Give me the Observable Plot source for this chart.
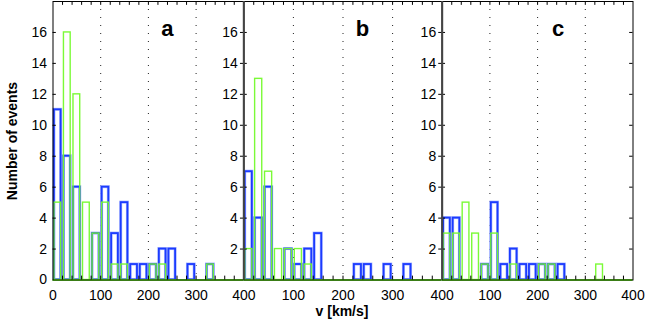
<!DOCTYPE html>
<html>
<head>
<meta charset="utf-8">
<script src="https://cdn.jsdelivr.net/npm/d3@7"></script>
<script src="https://cdn.jsdelivr.net/npm/@observablehq/plot@0.6"></script>
<style>
  html, body { margin: 0; padding: 0; background: #fff; }
  #wrap { position: relative; width: 658px; height: 331px; overflow: hidden; font-family: "Liberation Sans", Arial, Helvetica, sans-serif; }
  #wrap svg { position: absolute; left: 0; top: 0; background: transparent !important; }
  .lab { position: absolute; font-weight: bold; font-size: 14px; color: #000; white-space: nowrap; }
</style>
</head>
<body>
<div id="wrap">
  <div class="lab" id="ylab" style="left:12px;top:141px;transform:translate(-50%,-50%) rotate(-90deg);">Number of events</div>
  <div class="lab" id="xlab" style="left:342px;top:311px;transform:translate(-50%,-50%);">v [km/s]</div>
</div>
<script>
// bin centres (km/s), bin width 20
const binCenters = [10,30,50,70,90,110,130,150,170,190,210,230,250,270,290,310,330,350,370,390];
const binWidth = 20;

const panelNames = ["a", "b", "c"];
const blueA  = [11,8,6,0,3,6,3,5,1,1,1,2,2,0,1,0,1,0,0,0];
const greenA = [5,16,12,5,3,5,1,1,0,0,1,1,0,0,0,0,1,0,0,0];
const blueB  = [7,4,6,0,2,1,2,3,0,0,0,1,1,0,1,0,1,0,0,0];
const greenB = [2,13,7,2,2,2,1,0,0,0,0,0,0,0,0,0,0,0,0,0];
const blueC  = [4,4,0,0,1,5,1,2,1,1,1,1,1,0,0,0,0,0,0,0];
const greenC = [3,3,5,3,1,3,0,1,0,0,1,1,0,0,0,0,1,0,0,0];

const yTickLabelsFirst = [0,2,4,6,8,10,12,14,16];
const yTickLabelsOther = [2,4,6,8,10,12,14,16];
const yTickMarks = [2,4,6,8,10,12,14,16];
const xTickLabelsFirst = [0,100,200,300,400];
const xTickLabelsOther = [100,200,300,400];
const xTickMarks = [20,40,60,80,100,120,140,160,180,200,220,240,260,280,300,320,340,360,380];
const gridX = [100,200,300];

const BLUE = "#1b3bff", BLUE_HALO = "#a8b6ff", GREEN = "#74fa2c";
const W = 658, H = 331, TOP = 1, BASE = 279.5;

const panels = [
  {name: "a", blue: blueA, green: greenA, left: 52.5, right: 243.3, first: true,  lx: 240},
  {name: "b", blue: blueB, green: greenB, left: 243.3, right: 441.7, first: false, lx: 239},
  {name: "c", blue: blueC, green: greenC, left: 441.7, right: 632.5, first: false, lx: 243},
];

function rows(vals) {
  return binCenters.map((c, i) => ({lo: c - binWidth/2, hi: c + binWidth/2, v: vals[i]})).filter(d => d.v > 0);
}

const wrap = document.getElementById("wrap");
panels.forEach((p, k) => {
  const blue = rows(p.blue), green = rows(p.green);
  const marks = [
    Plot.ruleX(gridX, {stroke: "#222", strokeDasharray: "1,7", strokeWidth: 1}),
    Plot.rectY(blue, {x1: "lo", x2: "hi", y: "v", insetLeft: 1.4, insetRight: 1.4, fill: "none", stroke: BLUE_HALO, strokeWidth: 3}),
    Plot.rectY(blue, {x1: "lo", x2: "hi", y: "v", insetLeft: 1.4, insetRight: 1.4, fill: "none", stroke: BLUE, strokeWidth: 1.8}),
    Plot.rectY(green, {x1: "lo", x2: "hi", y: "v", insetLeft: 1.4, insetRight: 1.4, fill: "none", stroke: GREEN, strokeWidth: 1.4, strokeOpacity: 0.95}),
    Plot.ruleY([0], {stroke: GREEN, strokeWidth: 2}),
    Plot.frame({stroke: "#000", strokeWidth: 1}),
    // inward ticks
    Plot.ruleX(xTickMarks, {y1: 0, y2: 0.25, stroke: "#000"}),
    Plot.ruleX(xTickMarks, {y1: 17.75, y2: 18, stroke: "#000"}),
    Plot.ruleY(yTickMarks, {x1: 0, x2: 7, stroke: "#000"}),
    Plot.ruleY(yTickMarks, {x1: 393, x2: 400, stroke: "#000"}),
    Plot.axisY(p.first ? yTickLabelsFirst : yTickLabelsOther, {anchor: "left", tickSize: 0, tickPadding: 6, fontSize: 14, label: null}),
    Plot.axisX(p.first ? xTickLabelsFirst : xTickLabelsOther, {anchor: "bottom", tickSize: 0, tickPadding: 10, fontSize: 14, label: null}),
    Plot.text([p.name], {x: p.lx, y: 16.2, text: d => d, fontSize: 22, fontWeight: "bold", textAnchor: "middle", lineAnchor: "middle"}),
  ];
  if (!p.first) marks.push(Plot.ruleX([0], {stroke: "#444", strokeWidth: 2}));
  const svg = Plot.plot({
    width: W, height: H,
    marginLeft: p.left, marginRight: W - p.right,
    marginTop: TOP, marginBottom: H - BASE,
    x: {domain: [0, 400], axis: null},
    y: {domain: [0, 18], axis: null},
    style: {background: "transparent", fontFamily: "'Liberation Sans', Arial, Helvetica, sans-serif", color: "#000", fontSize: "14px", overflow: "visible"},
    marks
  });
  wrap.appendChild(svg);
});
</script>
</body>
</html>
